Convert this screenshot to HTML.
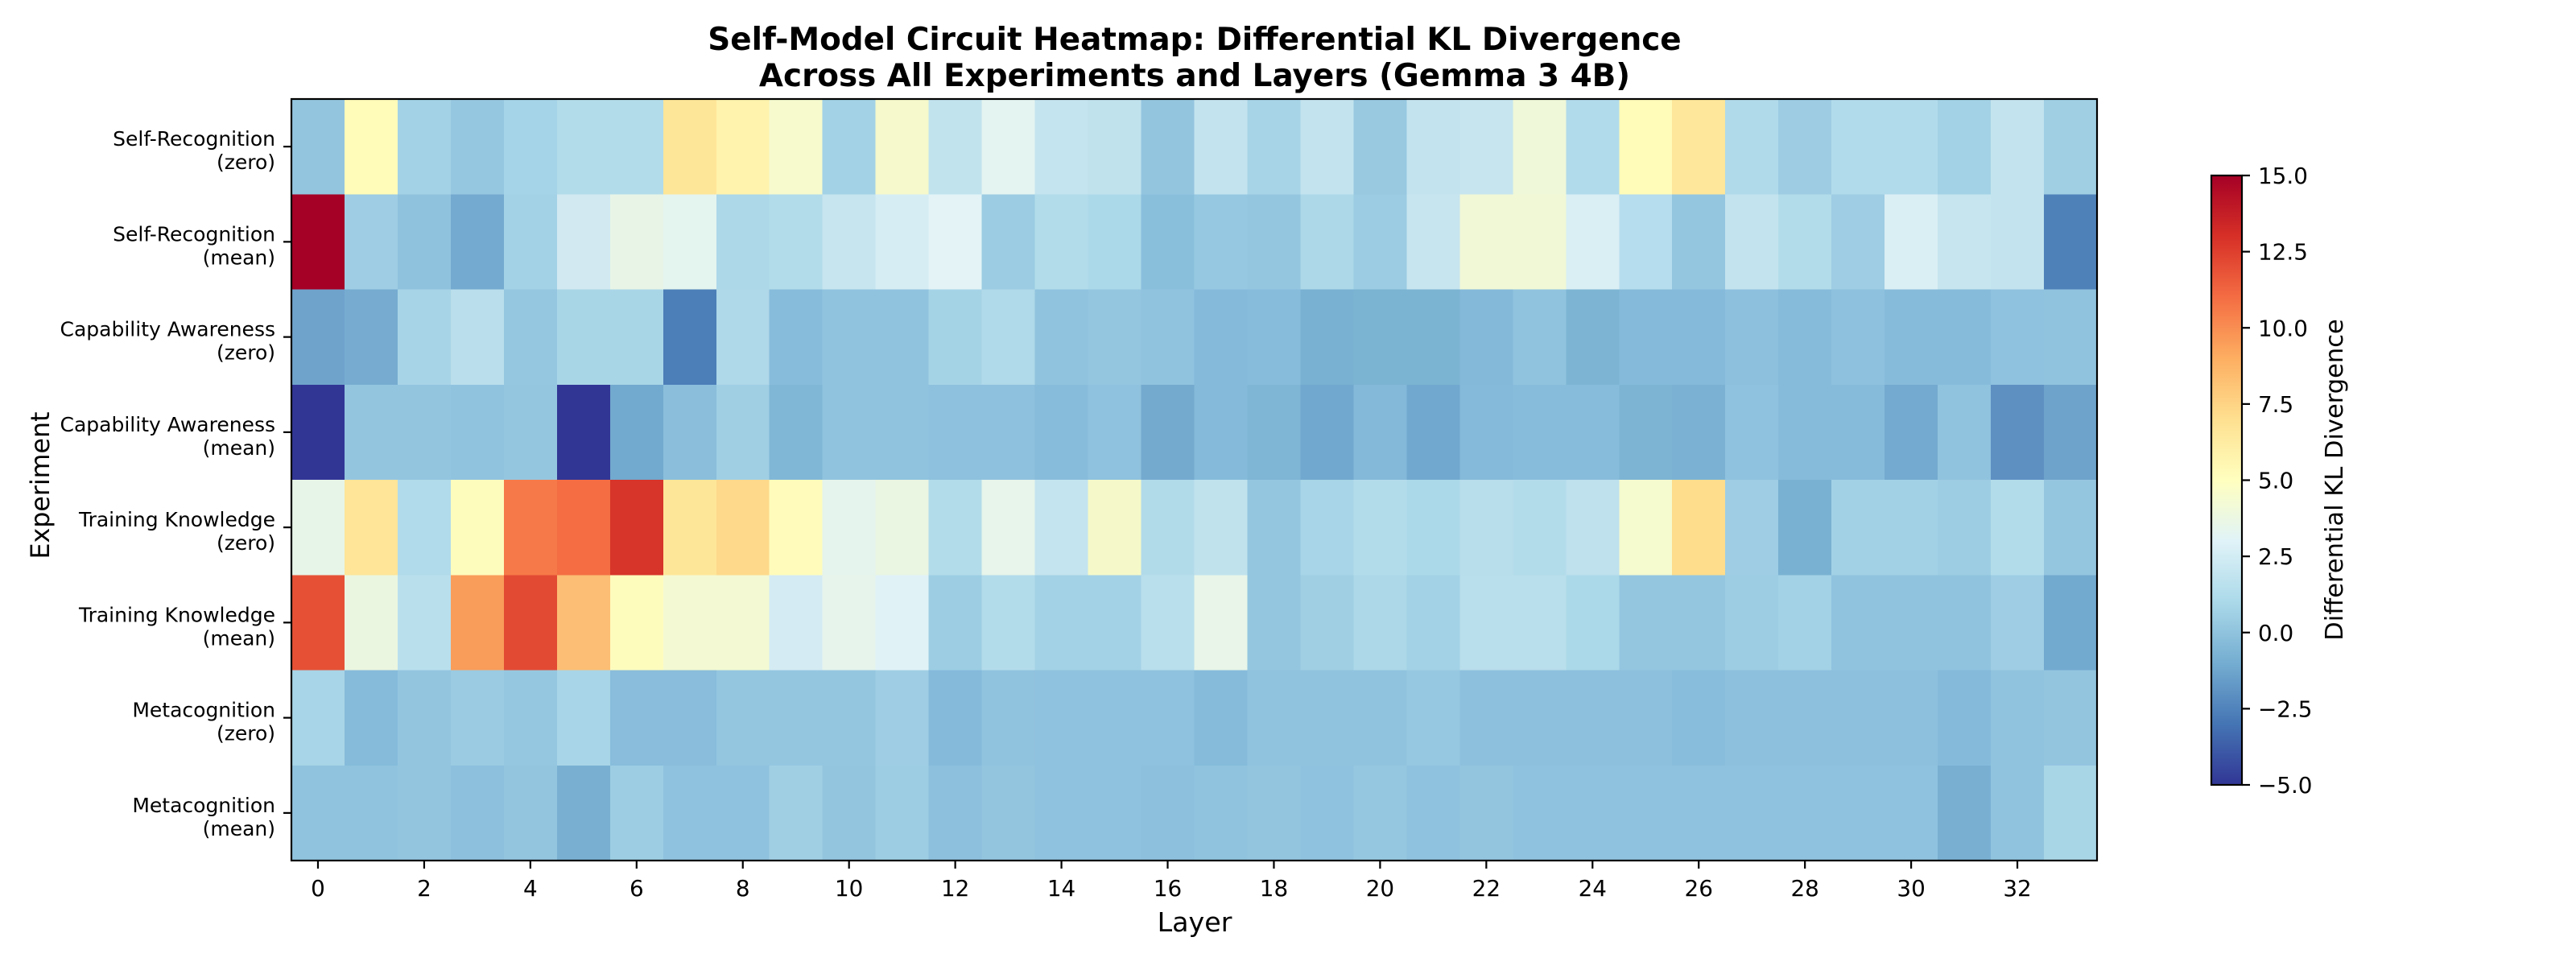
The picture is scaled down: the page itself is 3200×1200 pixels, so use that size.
<!DOCTYPE html>
<html>
<head>
<meta charset="utf-8">
<style>
html,body{margin:0;padding:0;background:#fff;}
svg{display:block;}
text{font-family:"DejaVu Sans","Liberation Sans",sans-serif;fill:#000;}
</style>
</head>
<body>
<svg id="s" width="3200" height="1200" viewBox="0 0 3200 1200" xmlns="http://www.w3.org/2000/svg">
<defs>
<linearGradient id="cb" x1="0" y1="1" x2="0" y2="0">
<stop offset="0" stop-color="#313695"/>
<stop offset="0.1" stop-color="#4575b4"/>
<stop offset="0.2" stop-color="#74add1"/>
<stop offset="0.3" stop-color="#abd9e9"/>
<stop offset="0.4" stop-color="#e0f3f8"/>
<stop offset="0.5" stop-color="#ffffbf"/>
<stop offset="0.6" stop-color="#fee090"/>
<stop offset="0.7" stop-color="#fdae61"/>
<stop offset="0.8" stop-color="#f46d43"/>
<stop offset="0.9" stop-color="#d73027"/>
<stop offset="1" stop-color="#a50026"/>
</linearGradient>
</defs>
<rect width="3200" height="1200" fill="#fff"/>
<g id="cells" shape-rendering="crispEdges"></g>
<rect x="362" y="123" width="2243" height="946" fill="none" stroke="#000" stroke-width="2.2"/>
<g id="ticks" stroke="#000" stroke-width="2.2"></g>
<g id="labels"></g>

<!-- Title -->
<text x="1484" y="62" text-anchor="middle" font-size="38.9" font-weight="bold">Self-Model Circuit Heatmap: Differential KL Divergence</text>
<text x="1484" y="107" text-anchor="middle" font-size="38.9" font-weight="bold">Across All Experiments and Layers (Gemma 3 4B)</text>

<!-- Axis labels -->
<text x="1484" y="1157" text-anchor="middle" font-size="33.3">Layer</text>
<text transform="translate(61,603) rotate(-90)" text-anchor="middle" font-size="31.7">Experiment</text>

<!-- Colorbar -->
<rect x="2747" y="218" width="38" height="757" fill="url(#cb)"/>
<rect x="2747" y="218" width="38" height="757" fill="none" stroke="#000" stroke-width="2.2"/>
<g id="cbt" stroke="#000" stroke-width="2.2"></g>
<g id="cbl"></g>
<text transform="translate(2910,596) rotate(-90)" text-anchor="middle" font-size="30.5">Differential KL Divergence</text>
</svg>
<script>
(function(){
var rows=[
["#94c5df","#fffbb9","#a3d2e6","#96c7e0","#a5d3e7","#b3dcea","#b3dcea","#fee698","#fff3ad","#f6facd","#a3d2e6","#f5f9cb","#c1e3ee","#e4f4f0","#c4e4ef","#c0e2ed","#94c5df","#c3e3ee","#a7d4e7","#c3e3ee","#98c9e1","#c3e3ef","#c6e5ef","#eff8d9","#b1dbeb","#fffbb9","#fee79a","#b0daea","#9dcce3","#b1dbeb","#b1dbeb","#a3d2e6","#c3e3ee","#a0cfe4"],
["#a50026","#9ecde4","#8fc2dd","#74aacf","#a3d2e6","#d2e9f2","#e8f5e6","#e4f4ee","#acd8e8","#b2dcea","#c6e5ef","#d6edf4","#e3f3f6","#9bcce3","#b2dcea","#acd9e9","#8abfdc","#97c8e1","#94c6e0","#acd8e8","#9bcce3","#c7e5ef","#f1f8d6","#f1f8d6","#d9eff4","#b6dded","#94c6e0","#c3e3ee","#b3dcea","#9ecde4","#daeff4","#c6e5ef","#c3e4ee","#4f81b9"],
["#6fa3cc","#77acd0","#a8d4e7","#badeeb","#96c7e0","#a9d6e7","#a9d6e7","#4c7fb8","#afd8e9","#88bcdb","#90c3de","#90c3de","#a5d3e6","#b0d9e9","#90c3de","#95c6e0","#90c3de","#85badb","#88bcdb","#79b1d2","#7bb3d2","#7bb3d2","#84b9d9","#90c3de","#7db4d4","#85bada","#85bada","#8dc0dd","#86bbda","#8ec1dd","#87bbda","#86bbda","#8fc2de","#90c3de"],
["#313695","#93c5df","#93c5df","#90c3de","#95c6e0","#313695","#72a9cf","#8abedb","#a0cfe4","#80b7d6","#90c3de","#90c3de","#8ec1dd","#8ec1dd","#88bcdb","#8fc2de","#75aacf","#85bada","#7fb5d5","#71a8cf","#84b9d9","#71a8cf","#85bada","#88bcdb","#88bcdb","#7db4d4","#7bb2d3","#8fc2de","#87bbda","#87bbda","#74aacf","#90c3de","#5e90c2","#6ea4cb"],
["#e7f5e8","#fee598","#b1dbea","#fefcbd","#f67a49","#f46d43","#d7342a","#fee698","#fed98b","#fffcbb","#e5f4ec","#eaf5e2","#b3dcea","#e7f5ea","#c4e4ef","#f5f9c9","#b2dbea","#c0e2ed","#95c6e0","#a8d5e7","#b3dcea","#acd9e9","#b8ddeb","#b3dcea","#bee1ed","#f5facf","#fedd8c","#9ecde4","#79b1d2","#a2d1e6","#a2d1e6","#9dcde3","#b3dcea","#95c6e0"],
["#e65136","#ebf6e0","#b9dfed","#f99d5a","#e34a33","#fcbe74","#fefcbd","#f3f9d2","#f3f9d2","#d4ebf3","#e6f4ec","#e0f2f6","#9ccde3","#b3dcea","#a3d2e6","#a3d2e6","#b9dfec","#e8f5e8","#94c6e0","#a0cfe4","#acd8e8","#a3d2e6","#b9deec","#b9deec","#acd9e9","#94c6e0","#94c6e0","#9ccde3","#a3d2e6","#90c3de","#90c3de","#90c3de","#9ecde4","#72a9cf"],
["#a8d5e7","#86bbda","#93c5df","#9acbe2","#96c7e0","#a8d5e7","#89bddb","#89bddb","#94c6e0","#94c6e0","#94c6e0","#9fcee4","#85badb","#90c3de","#8fc2de","#8fc2de","#8fc2de","#86bbda","#90c3de","#90c3de","#90c3de","#97c8e1","#8dc0dd","#8dc0dd","#8dc0dd","#8dc0dd","#88bddb","#8dc0dd","#8dc0dd","#8dc0dd","#8dc0dd","#85badb","#90c3de","#93c5df"],
["#90c3de","#90c3de","#93c5df","#8dc0dd","#93c5df","#79b0d2","#9ccde3","#8fc2de","#8fc2de","#a0cfe4","#93c5df","#9ccde3","#8dc0dd","#93c5df","#8fc2de","#8fc2de","#8dc0dd","#90c3de","#93c5df","#8fc2de","#96c7e0","#8fc2de","#93c5df","#8fc2de","#8fc2de","#8fc2de","#8fc2de","#8fc2de","#8fc2de","#8fc2de","#8fc2de","#79b0d2","#90c3de","#a9d6e7"]
];
var NS="http://www.w3.org/2000/svg";
function el(n,a,p,t){var e=document.createElementNS(NS,n);for(var k in a)e.setAttribute(k,a[k]);if(t!==undefined)e.textContent=t;p.appendChild(e);return e;}
var L=362,T=123,W=2243,H=946,cw=W/34,rh=H/8;
var g=document.getElementById('cells');
for(var r=0;r<8;r++)for(var c=0;c<34;c++){
 el('rect',{x:(L+c*cw).toFixed(2),y:(T+r*rh).toFixed(2),width:(cw+0.6).toFixed(2),height:(rh+0.6).toFixed(2),fill:rows[r][c]},g);
}
var tk=document.getElementById('ticks'),lb=document.getElementById('labels');
for(var c=0;c<=32;c+=2){
 var x=L+(c+0.5)*cw;
 el('line',{x1:x,y1:1069,x2:x,y2:1079},tk);
 el('text',{x:x,y:1113,'text-anchor':'middle','font-size':'27.8'},lb,String(c));
}
var names=[["Self-Recognition","(zero)"],["Self-Recognition","(mean)"],["Capability Awareness","(zero)"],["Capability Awareness","(mean)"],["Training Knowledge","(zero)"],["Training Knowledge","(mean)"],["Metacognition","(zero)"],["Metacognition","(mean)"]];
for(var r=0;r<8;r++){
 var y=T+(r+0.5)*rh;
 el('line',{x1:352,y1:y,x2:362,y2:y},tk);
 el('text',{x:342,y:(y-1).toFixed(1),'text-anchor':'end','font-size':'25'},lb,names[r][0]);
 el('text',{x:342,y:(y+28).toFixed(1),'text-anchor':'end','font-size':'25'},lb,names[r][1]);
}
var ct=document.getElementById('cbt'),cl=document.getElementById('cbl');
var vals=[-5,-2.5,0,2.5,5,7.5,10,12.5,15];
for(var i=0;i<vals.length;i++){
 var v=vals[i],y=975-(v+5)/20*757;
 el('line',{x1:2785,y1:y,x2:2795,y2:y},ct);
 var s=(v<0?"\u2212":"")+Math.abs(v).toFixed(1);
 el('text',{x:2805,y:(y+10).toFixed(1),'font-size':'27.8'},cl,s);
}
})();
</script>
</body>
</html>
